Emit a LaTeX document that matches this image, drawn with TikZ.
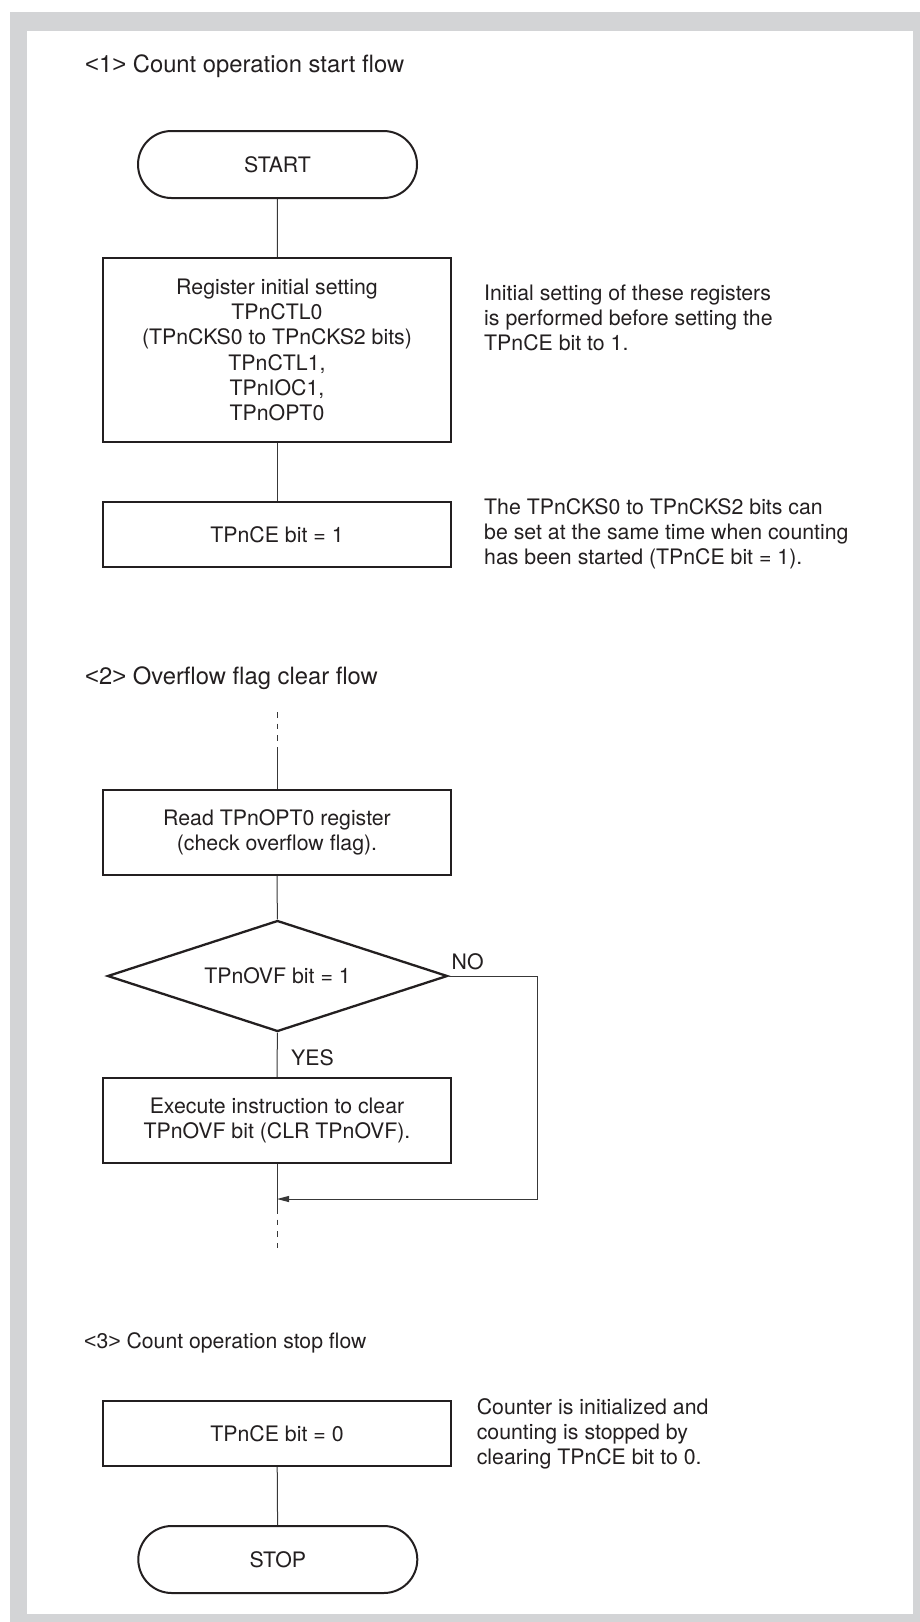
\documentclass[tikz,border=0pt]{standalone}
\usepackage{fontspec}
\setmainfont{TeX Gyre Heros}
\newfontfamily\anglefont{Liberation Sans}
\newcommand{\lt}{{\anglefont<}}
\newcommand{\gt}{{\anglefont>}}
\usetikzlibrary{shapes.geometric,arrows.meta}
\definecolor{framegray}{RGB}{211,212,214}
\definecolor{ink}{RGB}{35,31,32}

\begin{document}
\begin{tikzpicture}[x=1pt,y=-1pt,
  txt/.style={font=\fontsize{21.3}{25.3}\selectfont, inner sep=0pt, text=ink},
  ttl/.style={font=\fontsize{23.8}{28}\selectfont, inner sep=0pt, anchor=base west, text=ink},
  note/.style={txt, anchor=base west},
  stepbox/.style={draw=ink, line width=2.3pt, rectangle, minimum width=348pt, txt, align=center},
  pill/.style={draw=ink, line width=2pt, rectangle, rounded corners=33.5pt,
               minimum width=279pt, minimum height=67pt, txt},
  decision/.style={draw=ink, line width=2.3pt, diamond, aspect=3.06, minimum width=340pt,
                   minimum height=111pt, inner sep=0pt, txt},
  flow/.style={draw=black!78, line width=1pt},
  broken/.style={flow, dash pattern=on 5.7pt off 6pt},
]
\useasboundingbox (0,0) rectangle (920,1622);
% frame
\fill[framegray] (10,12) rectangle (920,1622);
\fill[white] (27,30.5) rectangle (913,1614);

% <1> count operation start flow
\node[ttl] (t1) at (85,72) {\lt1\gt{} Count operation start flow};
\node[pill] (start) at (277.5,164.5) {START};
\node[stepbox, minimum height=184pt] (reg) at (277,350)
  {Register initial setting\\TPnCTL0\\(TPnCKS0 to TPnCKS2 bits)\\TPnCTL1,\\TPnIOC1,\\TPnOPT0};
\node[stepbox, minimum height=65pt] (ce1) at (277,534.5) {TPnCE bit = 1};
\draw[flow] (start) -- (reg);
\draw[flow] (reg) -- (ce1);
\node[note] (n1) at (484,300) {\begin{tabular}[t]{@{}l@{}}Initial setting of these registers\\is performed before setting the\\TPnCE bit to 1.\end{tabular}};
\node[note] (n2) at (484,514) {\begin{tabular}[t]{@{}l@{}}The TPnCKS0 to TPnCKS2 bits can\\be set at the same time when counting\\has been started (TPnCE bit = 1).\end{tabular}};

% <2> overflow flag clear flow
\node[ttl] (t2) at (85,684.5) {\lt2\gt{} Overflow flag clear flow};
\node[stepbox, minimum height=85pt] (read) at (277,832.5)
  {Read TPnOPT0 register\\(check overflow flag).};
\node[decision] (ovf) at (277.5,976) {TPnOVF bit = 1};
\node[stepbox, minimum height=85pt] (clr) at (277,1120.5)
  {Execute instruction to clear\\TPnOVF bit (CLR TPnOVF).};
\node[txt, anchor=base west] (yes) at (291,1065) {YES};
\node[txt, anchor=base west] (no) at (451.5,969) {NO};
\coordinate (in2) at (277,712);
\coordinate (in2s) at (277,752);
\coordinate (noR) at (537,976);
\coordinate (noB) at (537,1199);
\coordinate (join) at (277,1199);
\coordinate (out2s) at (277,1208);
\coordinate (out2) at (277,1248);
\draw[broken] (in2) -- (in2s);
\draw[flow] (in2s) -- (read.north);
\draw[flow] (read) -- (ovf);
\draw[flow] (ovf) -- (clr);
\draw[flow, -{Triangle[length=12pt,width=6pt]}] (ovf.east) -- (noR) -- (noB) -- (join);
\draw[flow] (clr.south) -- (out2s);
\draw[broken] (out2s) -- (out2);

% <3> count operation stop flow
\node[ttl, font=\fontsize{21.2}{25}\selectfont] (t3) at (84,1348.5) {\lt3\gt{} Count operation stop flow};
\node[stepbox, minimum height=65pt] (ce0) at (277,1433.5) {TPnCE bit = 0};
\node[pill] (stop) at (277.8,1559.5) {STOP};
\draw[flow] (ce0) -- (stop);
\node[note] (n3) at (476.6,1414) {\begin{tabular}[t]{@{}l@{}}Counter is initialized and\\counting is stopped by\\clearing TPnCE bit to 0.\end{tabular}};
\end{tikzpicture}
\end{document}
